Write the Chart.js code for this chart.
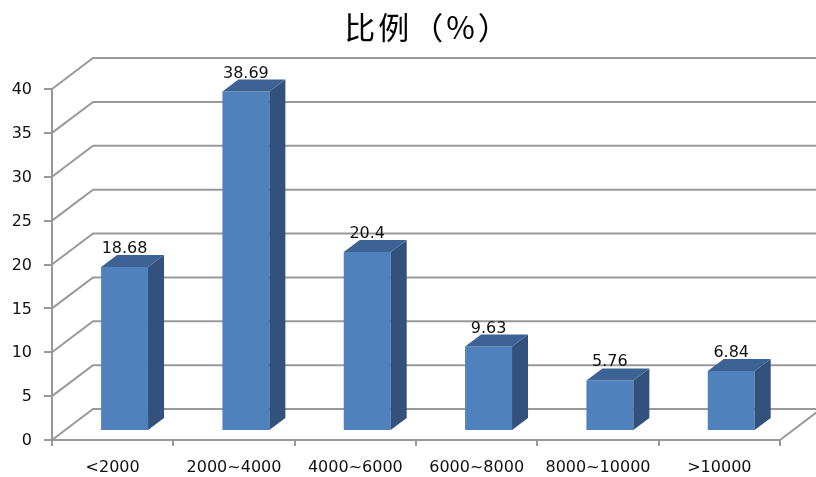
<!DOCTYPE html>
<html>
<head>
<meta charset="utf-8">
<script src="https://cdn.jsdelivr.net/npm/chart.js@4.4.1/dist/chart.umd.min.js"></script>
<style>
  html, body { margin: 0; padding: 0; background: #ffffff; }
  #wrap { width: 816px; height: 477px; }
</style>
</head>
<body>
<div id="wrap"><canvas id="c" width="816" height="477"></canvas></div>
<script>
// Income brackets and their share (%)
const categories = ['<2000', '2000~4000', '4000~6000', '6000~8000', '8000~10000', '>10000'];
const shares = [18.68, 38.69, 20.4, 9.63, 5.76, 6.84];
const yTicks = [0, 5, 10, 15, 20, 25, 30, 35, 40];
const chartTitle = '比例（%）';

// Perspective of the walls and bars
const DEPTH_X = 41, DEPTH_Y = 31;        // floor depth in pixels
const BAR_FRONT = 0.29, BAR_BACK = 0.68; // bar position inside the depth
const GRID = '#999999';
const FACE = 'rgb(79,129,189)';
const TOP = 'rgb(61,99,148)';
const SIDE = 'rgb(50,81,124)';
const FONT = 'DejaVu Sans';

const depth3d = {
  id: 'depth3d',
  beforeDatasetsDraw(chart) {
    const { ctx, chartArea: a, scales: { y } } = chart;
    ctx.save();
    ctx.strokeStyle = GRID;
    ctx.lineWidth = 2;
    yTicks.forEach(v => {
      const py = y.getPixelForValue(v);
      ctx.beginPath();
      ctx.moveTo(a.left, py);
      ctx.lineTo(a.left + DEPTH_X, py - DEPTH_Y);
      ctx.lineTo(a.right + DEPTH_X, py - DEPTH_Y);
      ctx.stroke();
    });
    const p0 = y.getPixelForValue(0);
    ctx.beginPath();
    ctx.moveTo(a.right, p0);
    ctx.lineTo(a.right + DEPTH_X, p0 - DEPTH_Y);
    ctx.stroke();
    ctx.restore();
  },
  beforeDatasetDraw(chart) {
    const ctx = chart.ctx;
    ctx.save();
    ctx.translate(DEPTH_X * BAR_FRONT, -DEPTH_Y * BAR_FRONT);
  },
  afterDatasetDraw(chart, args) {
    const ctx = chart.ctx;
    const dx = DEPTH_X * (BAR_BACK - BAR_FRONT);
    const dy = DEPTH_Y * (BAR_BACK - BAR_FRONT);
    args.meta.data.forEach(bar => {
      const { x, y, base, width } = bar.getProps(['x', 'y', 'base', 'width'], true);
      const l = x - width / 2, r = x + width / 2;
      ctx.fillStyle = SIDE;
      ctx.beginPath();
      ctx.moveTo(r, y);
      ctx.lineTo(r + dx, y - dy);
      ctx.lineTo(r + dx, base - dy);
      ctx.lineTo(r, base);
      ctx.closePath();
      ctx.fill();
      ctx.fillStyle = TOP;
      ctx.beginPath();
      ctx.moveTo(l, y);
      ctx.lineTo(l + dx, y - dy);
      ctx.lineTo(r + dx, y - dy);
      ctx.lineTo(r, y);
      ctx.closePath();
      ctx.fill();
    });
    ctx.restore();
  },
  afterDatasetsDraw(chart) {
    const ctx = chart.ctx;
    const meta = chart.getDatasetMeta(0);
    ctx.save();
    ctx.font = '16px "' + FONT + '"';
    ctx.fillStyle = '#111';
    ctx.textAlign = 'center';
    ctx.textBaseline = 'alphabetic';
    meta.data.forEach((bar, i) => {
      const { x, y } = bar.getProps(['x', 'y'], true);
      ctx.fillText(String(shares[i]), x + DEPTH_X * BAR_FRONT, y - DEPTH_Y * BAR_FRONT - 14);
    });
    ctx.restore();
  },
  afterDraw(chart) {
    // chart title
    const ctx = chart.ctx;
    ctx.save();
    ctx.font = '31px "Noto Sans CJK SC"';
    ctx.letterSpacing = '3px';
    ctx.fillStyle = '#000';
    ctx.textAlign = 'center';
    ctx.textBaseline = 'middle';
    ctx.fillText(chartTitle, chart.width / 2 + 20, 27);
    ctx.restore();
  }
};

new Chart(document.getElementById('c'), {
  type: 'bar',
  data: {
    labels: categories,
    datasets: [{
      data: shares,
      backgroundColor: FACE,
      borderWidth: 0,
      categoryPercentage: 1,
      barPercentage: 0.387,
      clip: false
    }]
  },
  options: {
    responsive: false,
    devicePixelRatio: 1,
    animation: false,
    layout: { padding: { top: 89, left: 0, right: 36, bottom: 0 } },
    plugins: {
      legend: { display: false },
      tooltip: { enabled: false },
      title: { display: false }
    },
    scales: {
      x: {
        grid: { display: true, drawOnChartArea: false, drawTicks: true, tickLength: 6, color: GRID, lineWidth: 2, offset: true },
        border: { display: true, color: GRID, width: 2 },
        ticks: { color: '#111', font: { family: FONT, size: 16 }, padding: 12, maxRotation: 0, autoSkip: false },
        afterFit(scale) { scale.height = 37; }
      },
      y: {
        min: 0, max: 40,
        ticks: { stepSize: 5, color: '#111', font: { family: FONT, size: 16 }, padding: 12, labelOffset: 1 },
        grid: { display: true, drawOnChartArea: false, drawTicks: true, tickLength: 8, color: GRID, lineWidth: 2 },
        border: { display: true, color: GRID, width: 2 },
        afterFit(scale) { scale.width = 52; }
      }
    }
  },
  plugins: [depth3d]
});
</script>
</body>
</html>
